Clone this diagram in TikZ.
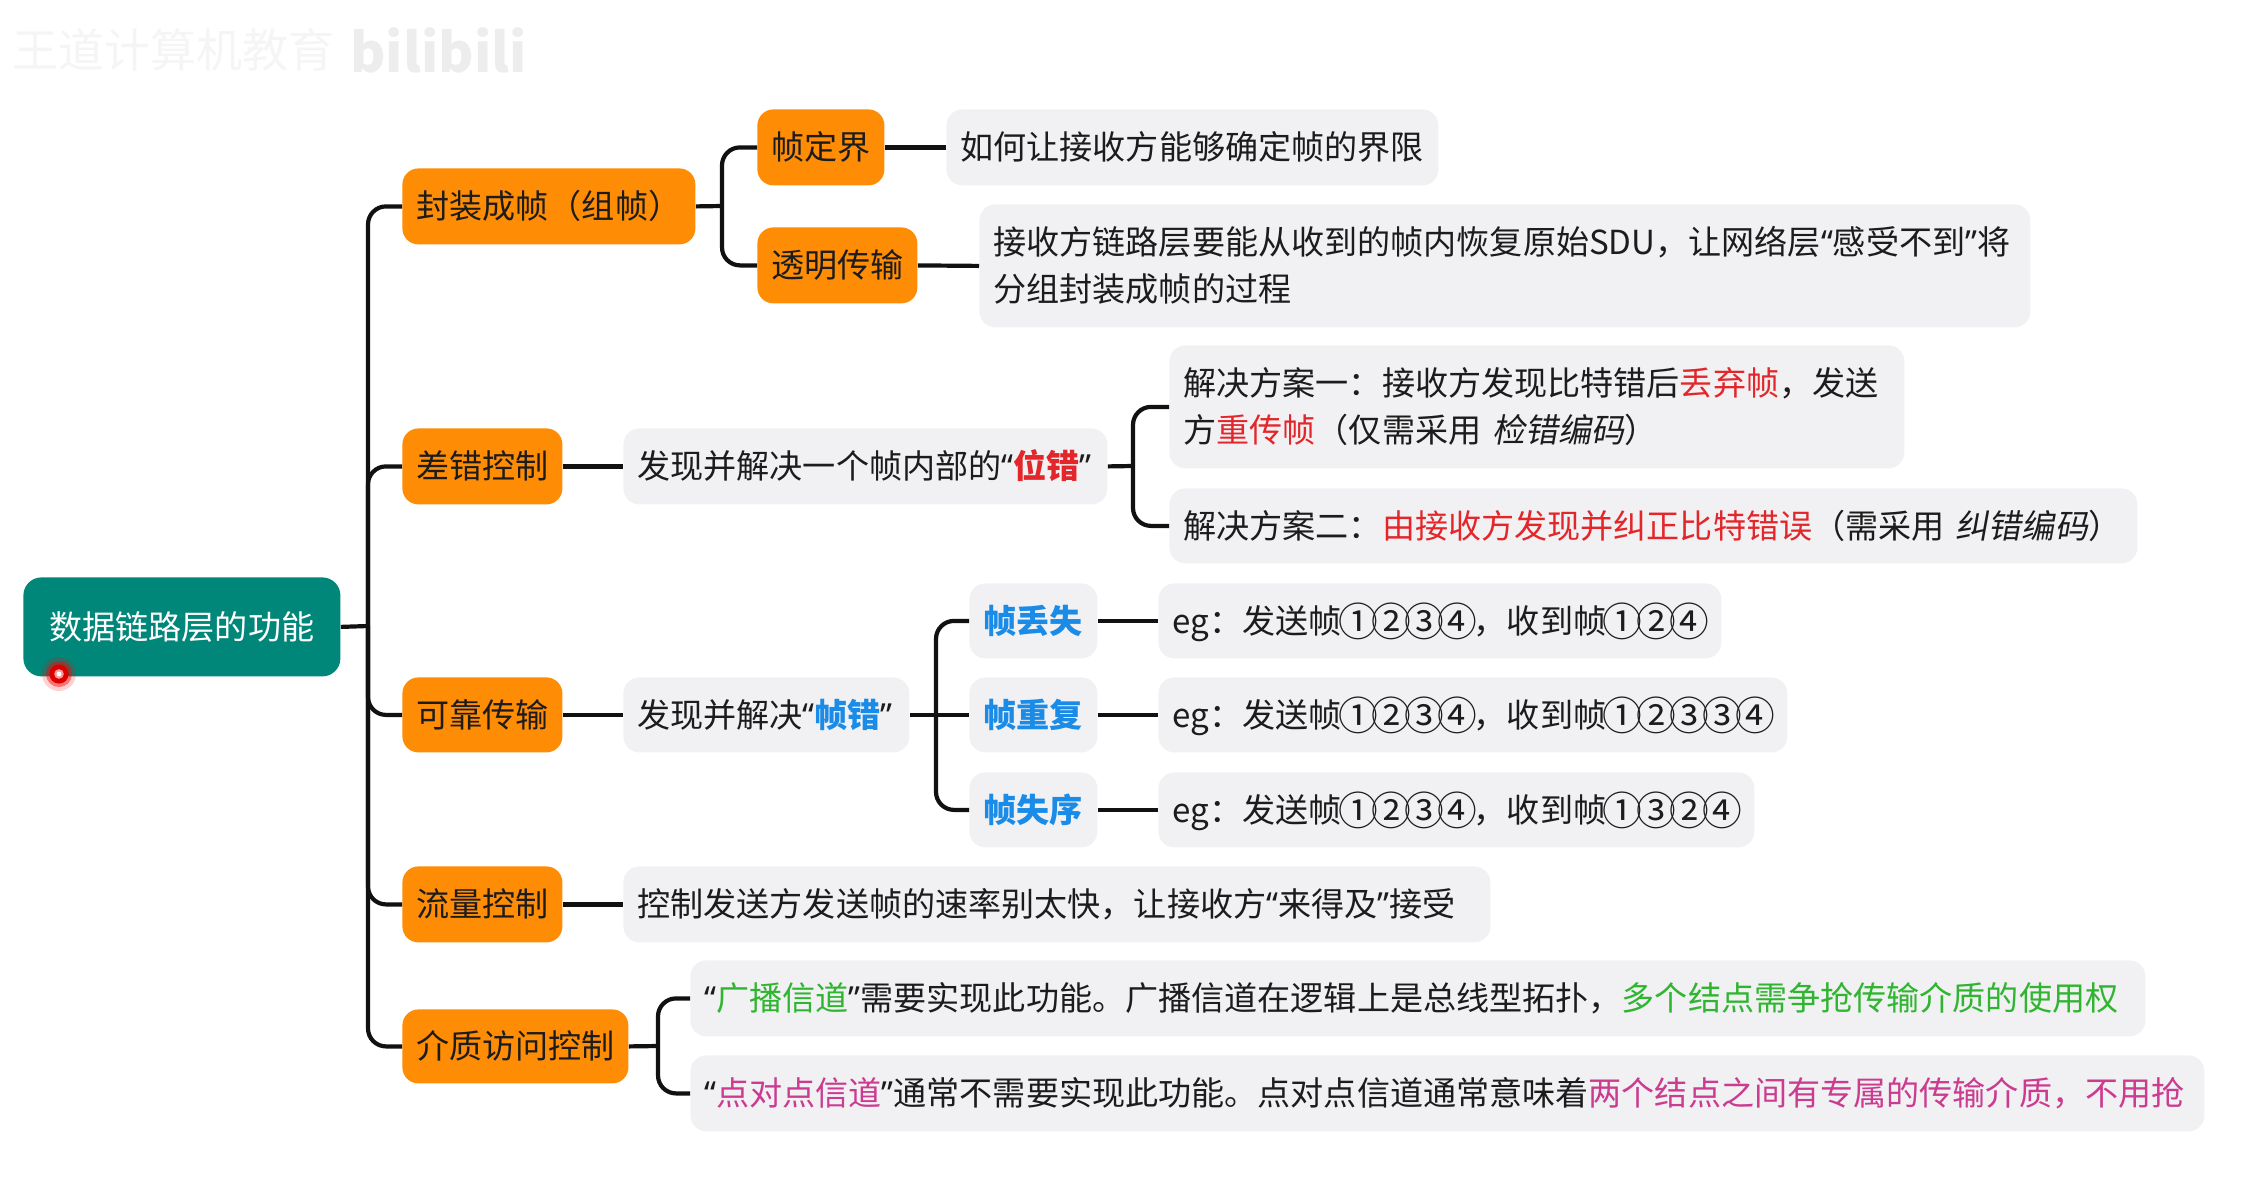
\documentclass[tikz,border=0pt]{standalone}
\usepackage{fontspec}
\setmainfont{Noto Sans CJK SC}
\newfontfamily\cjkslant[FakeSlant=0.18]{Noto Sans CJK SC}
\newfontfamily\quotefont{Noto Sans}
\definecolor{tealbox}{HTML}{01877A}
\definecolor{orangebox}{HTML}{FF8C05}
\definecolor{graybox}{HTML}{F1F0F3}
\definecolor{inkblack}{HTML}{1C1C1C}
\definecolor{linkblack}{HTML}{111111}
\definecolor{hlred}{HTML}{E3262A}
\definecolor{hlblue}{HTML}{1A8CE8}
\definecolor{hlgreen}{HTML}{2FB52F}
\definecolor{hlpink}{HTML}{CB3B8F}
\newcommand{\qL}{{\quotefont “}}
\newcommand{\qR}{{\quotefont ”}}
\newcommand{\hlr}[1]{\textcolor{hlred}{#1}}
\newcommand{\hlb}[1]{\textcolor{hlblue}{#1}}
\newcommand{\hlg}[1]{\textcolor{hlgreen}{#1}}
\newcommand{\hlp}[1]{\textcolor{hlpink}{#1}}
\newcommand{\slt}[1]{{\cjkslant #1}}
\newcommand{\bstrut}{\rule[-5.5pt]{0pt}{23.5pt}}
\newcommand{\cdg}[1]{\makebox[1em]{\raisebox{-0.09em}{\scalebox{1.2}{#1}}}}
% #1 name, #2 style, #3 x1, #4 y1, #5 x2, #6 y2, #7 text (reference pixels)
\newcommand{\pxbox}[7]{%
  \pgfmathsetmacro\bw{(#5-#3)*0.5}%
  \pgfmathsetmacro\bh{(#6-#4)*0.5}%
  \pgfmathsetmacro\tw{(#5-#3)*0.5-14}%
  \node[#2,minimum width=\bw pt,minimum height=\bh pt,text width=\tw pt,anchor=north west] (#1) at (#3,#4) {#7};%
}
\tikzset{
  basebox/.style={rounded corners=8pt,inner xsep=7pt,inner ysep=0pt,align=left,
    font=\fontsize{16.55}{23.5}\selectfont,text=inkblack},
  rootbox/.style={basebox,fill=tealbox,text=white,align=center,rounded corners=9pt},
  topicbox/.style={basebox,fill=orangebox},
  notebox/.style={basebox,fill=graybox},
  link/.style={draw=linkblack,line width=2.1pt,rounded corners=9pt},
}
\begin{document}
\begin{tikzpicture}[x=0.5pt,y=-0.5pt]
\useasboundingbox (0,0) rectangle (2251,1196);
% faint watermark
\node[text=black!4,font=\fontsize{23}{26}\selectfont,anchor=west,inner sep=0pt] (wmark) at (12,50) {王道计算机教育};
\node[text=black!7,font=\bfseries\fontsize{27}{30}\selectfont,anchor=west,inner sep=0pt] (wlogo) at (350,50) {bilibili};
% nodes
\pxbox{root}{rootbox}{23}{577}{340}{676}{\bstrut 数据链路层的功能}
\pxbox{fz}{topicbox}{402}{168}{695}{244}{\bstrut 封装成帧（组帧）}
\pxbox{cc}{topicbox}{402}{428}{562}{504}{\bstrut 差错控制}
\pxbox{kk}{topicbox}{402}{677}{562}{752}{\bstrut 可靠传输}
\pxbox{ll}{topicbox}{402}{866}{562}{942}{\bstrut 流量控制}
\pxbox{jz}{topicbox}{402}{1009}{628}{1083}{\bstrut 介质访问控制}
\pxbox{zdj}{topicbox}{757}{109}{884}{185}{\bstrut 帧定界}
\pxbox{tm}{topicbox}{757}{227}{917}{303}{\bstrut 透明传输}
\pxbox{zdjn}{notebox}{946}{109}{1438}{185}{\bstrut 如何让接收方能够确定帧的界限}
\pxbox{tmn}{notebox}{979}{204}{2030}{327}{\bstrut 接收方链路层要能从收到的帧内恢复原始SDU，让网络层\qL 感受不到\qR 将\\\bstrut 分组封装成帧的过程}
\pxbox{ccn}{notebox}{623}{428}{1107}{504}{\bstrut 发现并解决一个帧内部的\qL\hlr{\textbf{位错}}\qR}
\pxbox{s1}{notebox}{1169}{345}{1904}{468}{\bstrut 解决方案一：接收方发现比特错后\hlr{丢弃帧}，发送\\\bstrut 方\hlr{重传帧}（仅需采用 \slt{检错编码}）}
\pxbox{s2}{notebox}{1169}{488}{2137}{563}{\bstrut 解决方案二：\hlr{由接收方发现并纠正比特错误}（需采用 \slt{纠错编码}）}
\pxbox{kkn}{notebox}{623}{677}{909}{752}{\bstrut 发现并解决\qL\hlb{\textbf{帧错}}\qR}
\pxbox{ds}{notebox}{969}{583}{1097}{658}{\bstrut\hlb{\textbf{帧丢失}}}
\pxbox{cf}{notebox}{969}{677}{1097}{752}{\bstrut\hlb{\textbf{帧重复}}}
\pxbox{sx}{notebox}{969}{772}{1097}{847}{\bstrut\hlb{\textbf{帧失序}}}
\pxbox{e1}{notebox}{1158}{583}{1721}{658}{\bstrut eg：发送帧\cdg{①}\cdg{②}\cdg{③}\cdg{④}，收到帧\cdg{①}\cdg{②}\cdg{④}}
\pxbox{e2}{notebox}{1158}{677}{1787}{752}{\bstrut eg：发送帧\cdg{①}\cdg{②}\cdg{③}\cdg{④}，收到帧\cdg{①}\cdg{②}\cdg{③}\cdg{③}\cdg{④}}
\pxbox{e3}{notebox}{1158}{772}{1754}{847}{\bstrut eg：发送帧\cdg{①}\cdg{②}\cdg{③}\cdg{④}，收到帧\cdg{①}\cdg{③}\cdg{②}\cdg{④}}
\pxbox{lln}{notebox}{623}{866}{1490}{942}{\bstrut 控制发送方发送帧的速率别太快，让接收方\qL 来得及\qR 接受}
\pxbox{gb}{notebox}{690}{960}{2145}{1036}{\bstrut\qL\hlg{广播信道}\qR 需要实现此功能。广播信道在逻辑上是总线型拓扑，\hlg{多个结点需争抢传输介质的使用权}}
\pxbox{dd}{notebox}{690}{1055}{2204}{1131}{\bstrut\qL\hlp{点对点信道}\qR 通常不需要实现此功能。点对点信道通常意味着\hlp{两个结点之间有专属的传输介质，不用抢}}
% junctions
\coordinate (jroot) at (368,626);
\coordinate (jfz) at (722,206);
\coordinate (jcc) at (1133,466);
\coordinate (jkk) at (936,714);
\coordinate (jjz) at (658,1046);
% connectors
\draw[link] (root.east) -- (jroot);
\draw[link] (jroot) |- (fz.west);
\draw[link] (jroot) |- (cc.west);
\draw[link] (jroot) |- (kk.west);
\draw[link] (jroot) |- (ll.west);
\draw[link] (jroot) |- (jz.west);
\draw[link] (fz.east) -- (jfz);
\draw[link] (jfz) |- (zdj.west);
\draw[link] (jfz) |- (tm.west);
\draw[link] (zdj.east) -- (zdjn.west);
\draw[link] (tm.east) -- (tmn.west);
\draw[link] (cc.east) -- (ccn.west);
\draw[link] (ccn.east) -- (jcc);
\draw[link] (jcc) |- (s1.west);
\draw[link] (jcc) |- (s2.west);
\draw[link] (kk.east) -- (kkn.west);
\draw[link] (kkn.east) -- (cf.west);
\draw[link] (jkk) |- (ds.west);
\draw[link] (jkk) |- (sx.west);
\draw[link] (ds.east) -- (e1.west);
\draw[link] (cf.east) -- (e2.west);
\draw[link] (sx.east) -- (e3.west);
\draw[link] (ll.east) -- (lln.west);
\draw[link] (jz.east) -- (jjz);
\draw[link] (jjz) |- (gb.west);
\draw[link] (jjz) |- (dd.west);
% laser pointer
\fill[red,opacity=0.18] (59,674) circle (8.5pt);
\fill[red,opacity=0.45] (59,674) circle (6.5pt);
\fill[red!85!black] (59,674) circle (4.8pt);
\fill[white!60!red] (59,674) circle (2.4pt);
\fill[white] (59,674) circle (1.2pt);
\end{tikzpicture}
\end{document}
